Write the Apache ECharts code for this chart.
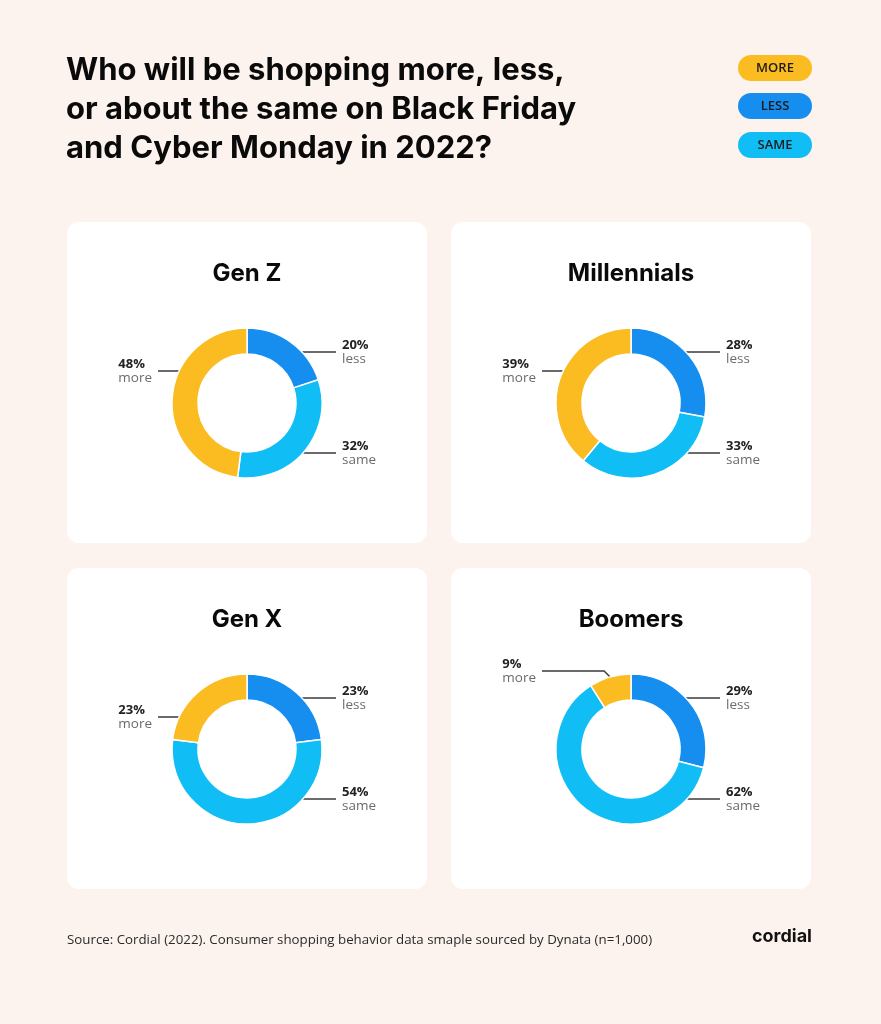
<!DOCTYPE html>
<html>
<head>
<meta charset="utf-8">
<title>Black Friday / Cyber Monday 2022</title>
<script src="https://cdn.jsdelivr.net/npm/echarts@6/dist/echarts.min.js"></script>
<style>
  html, body { margin: 0; padding: 0; background: #fdf3ee; }
  #main { width: 881px; height: 1024px; }
</style>
</head>
<body>
<div id="main"></div>
<script>
// data
var groups = ['Gen Z', 'Millennials', 'Gen X', 'Boomers'];
var categories = ['less', 'same', 'more'];
var legendItems = ['MORE', 'LESS', 'SAME'];
var lessValues = [20, 28, 23, 29];
var sameValues = [32, 33, 54, 62];
var moreValues = [48, 39, 23, 9];

var valuesBy = { less: lessValues, same: sameValues, more: moreValues };
var colors = { less: '#168ef0', same: '#10bef5', more: '#fbbc22' };

// layout
var cards = [[67, 222], [451, 222], [67, 568], [451, 568]];
var CARD_W = 360, CARD_H = 321;
var R_IN = 49, R_OUT = 75;
var centers = cards.map(function (c) { return [c[0] + 180, c[1] + 181]; });
// where each category's label sits: side of the ring and vertical offset from centre
var slotSide = { less: 1, same: 1, more: -1 };
var slotDy = { less: -51, same: 50, more: -32 };
var LINE_REACH = 89, TEXT_GAP = 95;

var chart = echarts.init(document.getElementById('main'));

function layoutFor(gi) {
    var c = centers[gi];
    var vals = categories.map(function (k) { return valuesBy[k][gi]; });
    var total = vals.reduce(function (a, b) { return a + b; }, 0);
    return function (p) {
        var i = p.dataIndex, cat = categories[i];
        var side = slotSide[cat], dy = slotDy[cat];
        var before = 0;
        for (var j = 0; j < i; j++) before += vals[j];
        var a0 = before / total * 360, a1 = (before + vals[i]) / total * 360;
        var t = Math.acos(-dy / R_OUT) * 180 / Math.PI;
        var theta = side > 0 ? t : 360 - t;
        var endX = c[0] + side * LINE_REACH;
        var y, pts;
        if (theta >= a0 && theta <= a1) {
            y = c[1] + dy;
            pts = [[c[0] + side * Math.sqrt(R_OUT * R_OUT - dy * dy), y], [endX, y]];
        } else {
            // slice too small to reach the slot: leave from its mid-angle
            var mid = (a0 + a1) / 2 * Math.PI / 180;
            var sx = c[0] + Math.sin(mid) * R_OUT, sy = c[1] - Math.cos(mid) * R_OUT;
            y = sy - 6;
            pts = [[sx, sy], [sx + side * 6, y], [endX, y]];
        }
        return {
            x: c[0] + side * TEXT_GAP,
            y: y,
            align: side > 0 ? 'left' : 'right',
            verticalAlign: 'middle',
            labelLinePoints: pts
        };
    };
}

var graphics = [];
cards.forEach(function (c, gi) {
    graphics.push({
        type: 'rect', z: -10,
        shape: { x: c[0], y: c[1], width: CARD_W, height: CARD_H, r: 12 },
        style: { fill: '#ffffff' }
    });
    graphics.push({
        type: 'text', z: 10,
        style: {
            text: groups[gi], x: c[0] + 180, y: c[1] + 52,
            align: 'center', verticalAlign: 'middle',
            fontSize: 24, fontWeight: 700, fontFamily: 'Inter', fill: '#0a0a0a'
        }
    });
});
var pillY = [55, 93, 132];
legendItems.forEach(function (name, i) {
    graphics.push({
        type: 'rect',
        shape: { x: 738, y: pillY[i], width: 74, height: 26, r: 13 },
        style: { fill: colors[name.toLowerCase()] }
    });
    graphics.push({
        type: 'text',
        style: {
            text: name, x: 775, y: pillY[i] + 13, align: 'center', verticalAlign: 'middle',
            fontSize: 13, fontWeight: 600, fontFamily: 'Open Sans', fill: '#1b1b1b'
        }
    });
});
graphics.push({
    type: 'text',
    style: {
        text: 'Source: Cordial (2022). Consumer shopping behavior data smaple sourced by Dynata (n=1,000)',
        x: 67, y: 940, verticalAlign: 'middle',
        fontSize: 13.3, fontFamily: 'Open Sans', fill: '#2a2a2a'
    }
});
graphics.push({
    type: 'text',
    style: {
        text: 'cordial', x: 812, y: 937, align: 'right', verticalAlign: 'middle',
        fontSize: 18, fontWeight: 700, fontFamily: 'Inter', fill: '#111111'
    }
});

var option = {
    backgroundColor: '#fdf3ee',
    animation: false,
    title: {
        text: 'Who will be shopping more, less,\nor about the same on Black Friday\nand Cyber Monday in 2022?',
        left: 61,
        top: 46,
        textStyle: {
            fontFamily: 'Inter', fontWeight: 700, fontSize: 31, lineHeight: 39, color: '#0a0a0a'
        }
    },
    graphic: graphics,
    series: groups.map(function (g, gi) {
        return {
            type: 'pie',
            name: g,
            radius: [R_IN, R_OUT],
            center: centers[gi],
            startAngle: 90,
            clockwise: true,
            avoidLabelOverlap: false,
            silent: true,
            itemStyle: { borderColor: '#ffffff', borderWidth: 1.5 },
            label: {
                show: true,
                position: 'outside',
                formatter: function (p) { return '{p|' + p.value + '%}\n{n|' + p.name + '}'; },
                rich: {
                    p: { fontFamily: 'Open Sans', fontSize: 13, fontWeight: 700, color: '#222222', lineHeight: 14, align: 'left' },
                    n: { fontFamily: 'Open Sans', fontSize: 13.5, color: '#6b6b6b', lineHeight: 14, align: 'left' }
                }
            },
            labelLine: { show: true, length: 10, length2: 20, lineStyle: { color: '#3a3a3a', width: 1.5 } },
            labelLayout: layoutFor(gi),
            data: categories.map(function (k) {
                return { name: k, value: valuesBy[k][gi], itemStyle: { color: colors[k] } };
            })
        };
    })
};
chart.setOption(option);
</script>
</body>
</html>
